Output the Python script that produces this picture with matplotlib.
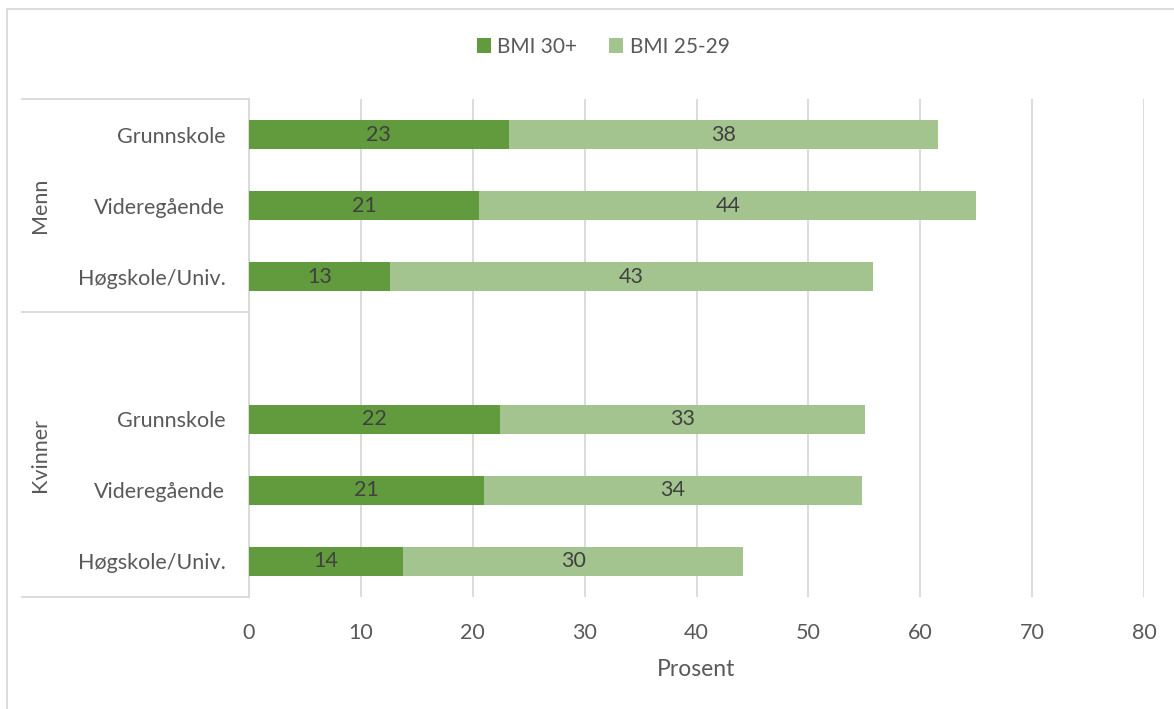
import numpy as np
import matplotlib
matplotlib.use("Agg")
import matplotlib.pyplot as plt
from matplotlib.transforms import blended_transform_factory
from matplotlib.lines import Line2D
from matplotlib.patches import Rectangle

plt.rcParams['font.family'] = ['Lato', 'DejaVu Sans']

## data: share with BMI 30+ and BMI 25-29 by gender and education
groups = ["Menn", "Kvinner"]
education = ["Grunnskole", "Videregående", "Høgskole/Univ."]
bmi30_menn = [23.2, 20.6, 12.6]
bmi25_menn = [38.4, 44.4, 43.2]
bmi30_kvinner = [22.4, 21.0, 13.8]
bmi25_kvinner = [32.7, 33.8, 30.4]
series_names = ["BMI 30+", "BMI 25-29"]
xticks = [0, 10, 20, 30, 40, 50, 60, 70, 80]

dark = "#629B3E"
light = "#A3C48F"
grid_col = "#D9D9D9"
txt_col = "#595959"
fs = 15.5

# men take slots 0-2, slot 3 is the blank row, women take slots 4-6
pos_menn = np.arange(3)
pos_kvinner = np.arange(4, 7)
pos = np.concatenate([pos_menn, pos_kvinner])
v30 = np.array(bmi30_menn + bmi30_kvinner)
v25 = np.array(bmi25_menn + bmi25_kvinner)

fig = plt.figure(figsize=(11.74, 7.09), dpi=100)
ax = fig.add_axes([249 / 1174, 1 - 597 / 709, 895 / 1174, 498 / 709])

b1 = ax.barh(pos, v30, height=0.41, color=dark, label=series_names[0], zorder=3)
b2 = ax.barh(pos, v25, left=v30, height=0.41, color=light, label=series_names[1], zorder=3)

for bars, vals in ((b1, v30), (b2, v25)):
    ax.bar_label(bars, labels=[f"{v:.0f}" for v in vals], label_type="center",
                 fontsize=fs, color="#404040")

ax.set_xlim(0, 80)
ax.set_ylim(6.5, -0.5)
ax.set_xticks(xticks)
ax.set_xticklabels([str(t) for t in xticks])
ax.set_yticks(pos)
ax.set_yticklabels(education * 2)
ax.tick_params(axis="y", length=0, pad=17, labelsize=fs, labelcolor=txt_col)
ax.tick_params(axis="x", length=0, pad=19, labelsize=fs, labelcolor=txt_col)
ax.xaxis.grid(True, color=grid_col, linewidth=1.3, zorder=0)
ax.set_xlabel("Prosent", fontsize=16.5, color=txt_col, labelpad=11)

for side in ("top", "right", "bottom"):
    ax.spines[side].set_visible(False)
ax.spines["left"].set_color(grid_col)
ax.spines["left"].set_linewidth(1.3)

# grouped category axis: separator lines and rotated group names
tr = blended_transform_factory(ax.transAxes, ax.transData)
x0 = (22 - 249) / 895
for y in (-0.5, 2.5, 6.5):
    ax.add_line(Line2D([x0, 0], [y, y], transform=tr, color=grid_col,
                       linewidth=1.3, clip_on=False))
xg = (40 - 249) / 895
ax.text(xg, pos_menn.mean(), groups[0], transform=tr, rotation=90,
        ha="center", va="center", fontsize=fs, color=txt_col)
ax.text(xg, 4.5, groups[1], transform=tr, rotation=90,
        ha="center", va="center", fontsize=fs, color=txt_col)

# outer chart frame
fig.patches.append(Rectangle((7 / 1174, -0.1), 1.2, 1 - 9 / 709 + 0.1,
                             transform=fig.transFigure, fill=False,
                             edgecolor=grid_col, linewidth=1.3))

fig.legend(handles=[b1, b2], loc="center", bbox_to_anchor=(603 / 1174, 1 - 47 / 709),
           ncol=2, frameon=False, fontsize=15, labelcolor=txt_col,
           handlelength=0.7, handleheight=0.7, handletextpad=0.3, columnspacing=1.5)

fig.savefig("out.png", dpi=100)
